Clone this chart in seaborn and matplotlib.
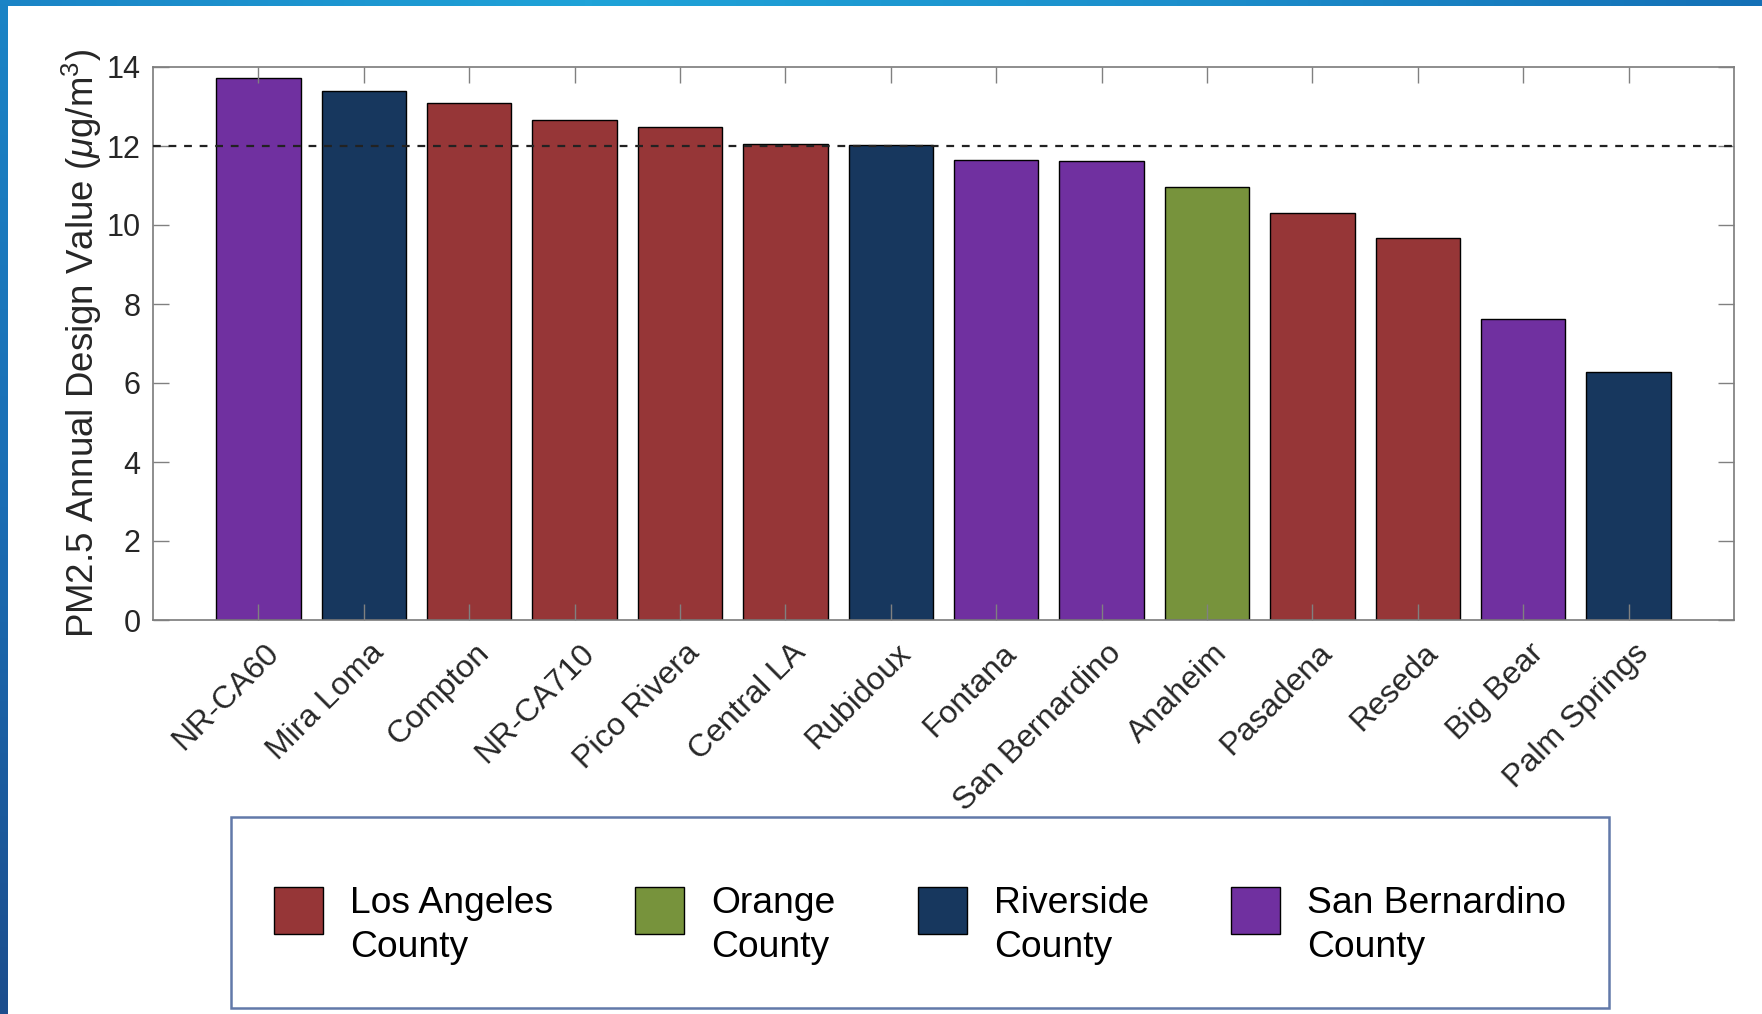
import numpy as np
import pandas as pd
import matplotlib
matplotlib.use("Agg")
import matplotlib.pyplot as plt
from matplotlib.colors import LinearSegmentedColormap
from matplotlib.patches import Rectangle
from matplotlib.legend_handler import HandlerPatch
import matplotlib.transforms as mtransforms
import seaborn as sns

sites = ["NR-CA60", "Mira Loma", "Compton", "NR-CA710", "Pico Rivera", "Central LA",
         "Rubidoux", "Fontana", "San Bernardino", "Anaheim", "Pasadena", "Reseda",
         "Big Bear", "Palm Springs"]
values = [13.72, 13.38, 13.10, 12.67, 12.48, 12.04, 12.03, 11.64, 11.61, 10.95,
          10.30, 9.66, 7.62, 6.29]
counties = ["San Bernardino", "Riverside", "Los Angeles", "Los Angeles", "Los Angeles",
            "Los Angeles", "Riverside", "San Bernardino", "San Bernardino", "Orange",
            "Los Angeles", "Los Angeles", "San Bernardino", "Riverside"]
county_order = ["Los Angeles", "Orange", "Riverside", "San Bernardino"]
county_labels = ["Los Angeles\nCounty", "Orange\nCounty", "Riverside\nCounty",
                 "San Bernardino\nCounty"]
county_colors = ["#963637", "#77933c", "#17375e", "#7030a0"]
standard = 12
yticks = [0, 2, 4, 6, 8, 10, 12, 14]

df = pd.DataFrame({"site": sites, "value": values, "county": counties})

sns.set_theme(style="white")
plt.rcParams["font.family"] = ["Liberation Sans", "DejaVu Sans"]
plt.rcParams["mathtext.fontset"] = "custom"
plt.rcParams["mathtext.rm"] = "Liberation Sans"
plt.rcParams["mathtext.it"] = "Liberation Sans:italic"

fig = plt.figure(figsize=(17.62, 10.14), dpi=100)
fig.patch.set_facecolor("white")

# slide frame strips
cm_top = LinearSegmentedColormap.from_list("t", ["#1a84c6", "#1fa3d8", "#1c8fcc", "#1470b6"])
cm_left = LinearSegmentedColormap.from_list("l", ["#1a84c6", "#1a6db4", "#1d4e8d"])
axt = fig.add_axes([0, 1 - 6 / 1014, 1, 6 / 1014])
axt.imshow(np.linspace(0, 1, 256)[None, :], aspect="auto", cmap=cm_top)
axt.axis("off")
axl = fig.add_axes([0, 0, 8 / 1762, 1])
axl.imshow(np.linspace(0, 1, 256)[:, None], aspect="auto", cmap=cm_left)
axl.axis("off")

ax = fig.add_axes([153 / 1762, 1 - 620 / 1014, (1734 - 153) / 1762, (620 - 67) / 1014])
sns.barplot(data=df, x="site", y="value", hue="county", order=sites,
            hue_order=county_order, palette=county_colors, dodge=False, width=0.8,
            edgecolor="black", linewidth=1.0, saturation=1, ax=ax, legend=True)
handles, _ = ax.get_legend_handles_labels()
ax.get_legend().remove()

ax.axhline(standard, color="#222222", lw=1.6, ls=(0, (3.5, 3.5)), zorder=3)

ax.set_xlim(-1, len(sites))
ax.set_ylim(0, 14)
ax.set_yticks(yticks)
ax.set_yticklabels([str(t) for t in yticks])
ax.set_xlabel("")
ax.set_ylabel(r"PM2.5 Annual Design Value ($\mu$g/m$^3$)", fontsize=26.4, color="#262626",
              labelpad=1.5)
ax.tick_params(axis="both", direction="in", length=11.5, width=1.0, color="#808080",
               labelcolor="#262626", top=True, right=True, bottom=True, left=True)
ax.tick_params(axis="y", labelsize=22, pad=9)
ax.tick_params(axis="x", labelsize=23, pad=13)
offset = mtransforms.ScaledTranslation(5 / 100, 0, fig.dpi_scale_trans)
for lab in ax.get_xticklabels():
    lab.set_rotation(45)
    lab.set_ha("right")
    lab.set_rotation_mode("anchor")
    lab.set_transform(lab.get_transform() + offset)
for s in ax.spines.values():
    s.set_visible(True)
    s.set_color("#7a7a7a")
    s.set_linewidth(1.2)
ax.set_axisbelow(False)


def raised_patch(legend, orig_handle, xdescent, ydescent, width, height, fontsize):
    return Rectangle((-xdescent, 3.6), width, 34)


leg = fig.legend(handles, county_labels, loc="upper center", ncol=4,
                 bbox_to_anchor=(231 / 1762, 0, (1609 - 231) / 1762, 1 - 817 / 1014),
                 mode="expand", fontsize=26.8, frameon=True, fancybox=False,
                 title=" ", title_fontsize=15.4,
                 handlelength=1.32, handleheight=1.26, handletextpad=0.72,
                 borderpad=1.15, borderaxespad=0, labelspacing=0.2,
                 handler_map={Rectangle: HandlerPatch(patch_func=raised_patch)})
leg.get_frame().set_edgecolor("#3b5894")
leg.get_frame().set_linewidth(1.8)
for t in leg.get_texts():
    t.set_color("black")
    t.set_linespacing(1.32)

fig.savefig("out.png", dpi=100)
